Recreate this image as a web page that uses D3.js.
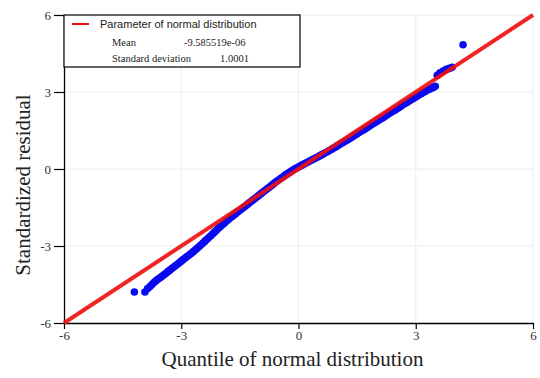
<!DOCTYPE html>
<html>
<head>
<meta charset="utf-8">
<script src="https://cdn.jsdelivr.net/npm/d3@7"></script>
<style>
  body { margin: 0; background: #fff; }
</style>
</head>
<body>
<div id="qq"></div>
<script>
// Theoretical quantiles (x) and standardized residuals (y)
var quantiles = [-4.20, -3.93, -3.86,
  -3.80, -3.75, -3.70, -3.65, -3.60, -3.55, -3.50, -3.45, -3.40, -3.35,
  -3.30, -3.25, -3.20, -3.15, -3.10, -3.05, -3.00, -2.95, -2.90, -2.85,
  -2.80, -2.75, -2.70, -2.65, -2.60, -2.55, -2.50, -2.45, -2.40, -2.35,
  -2.30, -2.25, -2.20, -2.15, -2.10, -2.05, -2.00, -1.95, -1.90, -1.85,
  -1.80, -1.75, -1.70, -1.65, -1.60, -1.55, -1.50, -1.45, -1.40, -1.35,
  -1.30, -1.25, -1.20, -1.15, -1.10, -1.05, -1.00, -0.95, -0.90, -0.85,
  -0.80, -0.75, -0.70, -0.65, -0.60, -0.55, -0.50, -0.45, -0.40, -0.35,
  -0.30, -0.25, -0.20, -0.15, -0.10, -0.05, 0.00, 0.05, 0.10, 0.15,
  0.20, 0.25, 0.30, 0.35, 0.40, 0.45, 0.50, 0.55, 0.60, 0.65,
  0.70, 0.75, 0.80, 0.85, 0.90, 0.95, 1.00, 1.05, 1.10, 1.15,
  1.20, 1.25, 1.30, 1.35, 1.40, 1.45, 1.50, 1.55, 1.60, 1.65,
  1.70, 1.75, 1.80, 1.85, 1.90, 1.95, 2.00, 2.05, 2.10, 2.15,
  2.20, 2.25, 2.30, 2.35, 2.40, 2.45, 2.50, 2.55, 2.60, 2.65,
  2.70, 2.75, 2.80, 2.85, 2.90, 2.95, 3.00, 3.05, 3.10, 3.15,
  3.20, 3.25, 3.30, 3.35, 3.40, 3.45, 3.50,
  3.55, 3.62, 3.70, 3.78, 3.86, 3.93, 4.21];
var residuals = [-4.79, -4.79, -4.66,
  -4.58, -4.50, -4.42, -4.36, -4.30, -4.25, -4.19, -4.13, -4.07, -4.01,
  -3.95, -3.89, -3.83, -3.77, -3.71, -3.65, -3.59, -3.53, -3.47, -3.41,
  -3.35, -3.29, -3.23, -3.17, -3.10, -3.03, -2.96, -2.89, -2.82, -2.75,
  -2.68, -2.61, -2.53, -2.46, -2.39, -2.31, -2.24, -2.17, -2.11, -2.04,
  -1.98, -1.91, -1.85, -1.79, -1.73, -1.67, -1.61, -1.55, -1.49, -1.43,
  -1.37, -1.31, -1.25, -1.19, -1.13, -1.07, -1.01, -0.95, -0.89, -0.83,
  -0.77, -0.71, -0.65, -0.59, -0.53, -0.47, -0.42, -0.36, -0.31, -0.25,
  -0.20, -0.15, -0.10, -0.05, 0.00, 0.04, 0.08, 0.12, 0.16, 0.20,
  0.24, 0.28, 0.32, 0.36, 0.40, 0.44, 0.48, 0.52, 0.56, 0.60,
  0.64, 0.68, 0.73, 0.77, 0.82, 0.86, 0.91, 0.95, 1.00, 1.04,
  1.09, 1.13, 1.18, 1.23, 1.28, 1.32, 1.37, 1.42, 1.47, 1.51,
  1.56, 1.61, 1.66, 1.71, 1.76, 1.80, 1.85, 1.90, 1.95, 1.99,
  2.04, 2.09, 2.14, 2.19, 2.24, 2.28, 2.33, 2.38, 2.43, 2.48,
  2.53, 2.57, 2.62, 2.67, 2.72, 2.76, 2.81, 2.85, 2.90, 2.94,
  2.99, 3.03, 3.08, 3.11, 3.15, 3.18, 3.22,
  3.65, 3.75, 3.82, 3.88, 3.92, 3.96, 4.84];

// reference line of the fitted normal distribution
var refLine = [[-6, -6], [6, 6]];

var ticks = [-6, -3, 0, 3, 6];

var legendTitle = "Parameter of normal distribution";
var paramNames = ["Mean", "Standard deviation"];
var paramValues = ["-9.585519e-06", "1.0001"];

var w = 540, h = 378;
var margin = {top: 15, right: 7, bottom: 55, left: 64};
var width = w - margin.left - margin.right;
var height = h - margin.top - margin.bottom;

var data = quantiles.map(function(q, i) { return {q: q, r: residuals[i]}; });

var svg = d3.select("#qq")
  .append("svg")
    .attr("width", w)
    .attr("height", h)
  .append("g")
    .attr("transform", "translate(" + margin.left + "," + margin.top + ")");

var x = d3.scaleLinear().domain([-6, 6]).range([0, width]);
var y = d3.scaleLinear().domain([-6, 6]).range([height, 0]);

// faint grid
svg.append("g")
  .selectAll("line.vg")
  .data(ticks.slice(1))
  .enter()
  .append("line")
    .attr("x1", function(d) { return x(d); })
    .attr("x2", function(d) { return x(d); })
    .attr("y1", 0)
    .attr("y2", height)
    .attr("stroke", "#ececec")
    .attr("stroke-width", 1);
svg.append("g")
  .selectAll("line.hg")
  .data(ticks.slice(1))
  .enter()
  .append("line")
    .attr("x1", 0)
    .attr("x2", width)
    .attr("y1", function(d) { return y(d); })
    .attr("y2", function(d) { return y(d); })
    .attr("stroke", "#ececec")
    .attr("stroke-width", 1);

var fmt = function(d) { return String(d); };

// X axis
var xAxis = svg.append("g")
  .attr("transform", "translate(0," + height + ")")
  .call(d3.axisBottom(x).tickValues(ticks).tickFormat(fmt).tickSize(6).tickPadding(2).tickSizeOuter(0));
xAxis.selectAll("text")
  .attr("font-family", "'Liberation Serif', serif")
  .attr("font-size", "13px")
  .attr("fill", "#333");

// Y axis
var yAxis = svg.append("g")
  .call(d3.axisLeft(y).tickValues(ticks).tickFormat(fmt).tickSize(10).tickPadding(3).tickSizeOuter(0));
yAxis.selectAll("text")
  .attr("font-family", "'Liberation Serif', serif")
  .attr("font-size", "13px")
  .attr("fill", "#333");
svg.selectAll(".domain").attr("stroke", "#000").attr("stroke-width", 1.3);
svg.selectAll(".tick line").attr("stroke", "#000").attr("stroke-width", 1.2);

// points
svg.append("g")
  .selectAll("circle")
  .data(data)
  .enter()
  .append("circle")
    .attr("cx", function(d) { return x(d.q); })
    .attr("cy", function(d) { return y(d.r); })
    .attr("r", 3.8)
    .attr("fill", "#0a0af0");

// normal reference line
svg.append("path")
  .datum(refLine)
  .attr("d", d3.line().x(function(d) { return x(d[0]); }).y(function(d) { return y(d[1]); }))
  .attr("stroke", "#f01010")
  .attr("stroke-width", 4)
  .attr("opacity", 0.92)
  .attr("fill", "none");

// legend box
var legend = svg.append("g");
legend.append("rect")
  .attr("x", 0)
  .attr("y", 0)
  .attr("width", 236)
  .attr("height", 52)
  .attr("fill", "#fff")
  .attr("stroke", "#000")
  .attr("stroke-width", 1.2);
legend.append("line")
  .attr("x1", 8).attr("x2", 25)
  .attr("y1", 9).attr("y2", 9)
  .attr("stroke", "#f01010")
  .attr("stroke-width", 2);
legend.append("text")
  .attr("x", 36)
  .attr("y", 13)
  .attr("font-family", "'Liberation Sans', sans-serif")
  .attr("font-size", "11px")
  .attr("fill", "#222")
  .text(legendTitle);
legend.selectAll("text.pname")
  .data(paramNames)
  .enter()
  .append("text")
    .attr("x", 48)
    .attr("y", function(d, i) { return 31 + i * 16; })
    .attr("font-family", "'Liberation Serif', serif")
    .attr("font-size", "10.5px")
    .attr("fill", "#222")
    .text(function(d) { return d; });
legend.selectAll("text.pval")
  .data(paramValues)
  .enter()
  .append("text")
    .attr("x", function(d, i) { return i == 0 ? 120 : 156; })
    .attr("y", function(d, i) { return 31 + i * 16; })
    .attr("font-family", "'Liberation Serif', serif")
    .attr("font-size", "10.5px")
    .attr("fill", "#222")
    .text(function(d) { return d; });

// axis labels
svg.append("text")
  .attr("text-anchor", "middle")
  .attr("x", width / 2 - 6)
  .attr("y", height + 43)
  .attr("font-family", "'Liberation Serif', serif")
  .attr("font-size", "21px")
  .attr("fill", "#222")
  .text("Quantile of normal distribution");

svg.append("text")
  .attr("text-anchor", "middle")
  .attr("transform", "rotate(-90)")
  .attr("x", -height / 2 - 16)
  .attr("y", -margin.left + 30)
  .attr("font-family", "'Liberation Serif', serif")
  .attr("font-size", "21px")
  .attr("fill", "#222")
  .text("Standardized residual");
</script>
</body>
</html>
